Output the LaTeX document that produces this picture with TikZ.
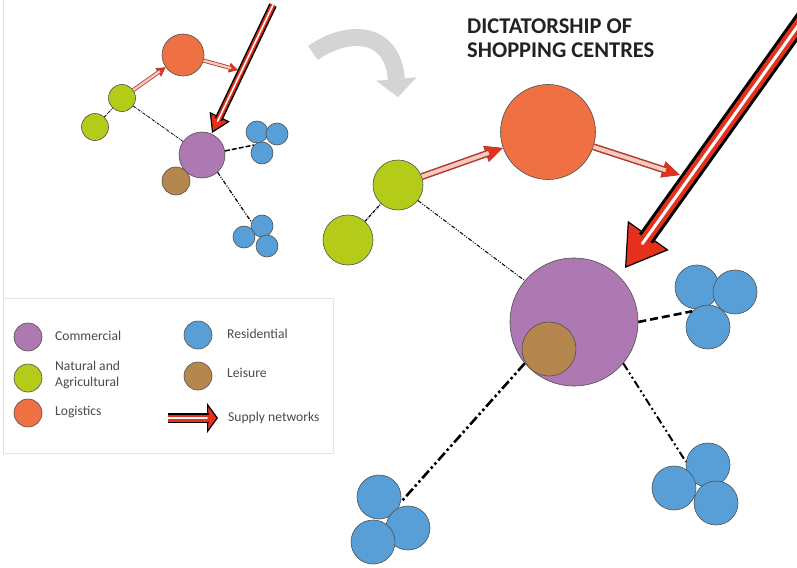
\documentclass[tikz,border=0pt]{standalone}
\usepackage{fontspec}
\setmainfont{Carlito}
\usetikzlibrary{arrows.meta,calc}
\definecolor{purp}{HTML}{AE78B2}
\definecolor{orng}{HTML}{EE7043}
\definecolor{grn}{HTML}{B4CC19}
\definecolor{blu}{HTML}{579FD6}
\definecolor{brn}{HTML}{B5874F}
\definecolor{cline}{HTML}{505050}
\definecolor{sred}{HTML}{E5301C}
\definecolor{sdark}{HTML}{B03A2E}
\definecolor{spink}{HTML}{F6C9BE}
\definecolor{garrow}{HTML}{D4D4D4}
\definecolor{txt}{HTML}{4A4A4A}
\definecolor{titlec}{HTML}{222222}

% pink supply arrow: from, to, outer w, inner w, head len, head wid, shorten
\newcommand{\pinkarrow}[7]{%
  \draw[line width=0.7pt, draw=sdark, -{Triangle[length=#5,width=#6,fill=sred]}] (#1) -- (#2);
  \draw[line width=#3, draw=sdark, shorten >=#7] (#1) -- (#2);
  \draw[line width=#4, draw=spink, shorten >=#7] (#1) -- (#2);
}
% red supply arrow: from, to, outer, red, white, head len, head wid, shorten, white shorten
\newcommand{\redarrow}[9]{%
  \draw[line width=1.2pt, draw=black, -{Triangle[length=#6,width=#7,fill=sred]}] (#1) -- (#2);
  \draw[line width=#3, draw=black, shorten >=#8] (#1) -- (#2);
  \draw[line width=#4, draw=sred, shorten >=#8] (#1) -- (#2);
  \draw[line width=#5, draw=white, line cap=round, shorten >=#9] (#1) -- (#2);
}

\begin{document}
\begin{tikzpicture}[x=1pt,y=-1pt,
  circ/.style={circle, draw=cline, line width=0.6pt, inner sep=0pt, minimum size=#1},
  legtext/.style={anchor=west, inner sep=0pt, text=txt, font=\fontsize{13.6}{16}\selectfont, align=left},
  dashthin/.style={line width=1pt, dash pattern=on 4pt off 1.5pt on 1pt off 1.5pt on 1pt off 1.5pt},
  dashdd/.style={line width=2.2pt, dash pattern=on 8pt off 3pt on 2pt off 3pt on 2pt off 3pt},
  dashthick/.style={line width=2.6pt, dash pattern=on 8pt off 4pt},
  sdash/.style={line width=0.8pt, dash pattern=on 3pt off 1pt on 0.8pt off 1pt},
  sdashthick/.style={line width=1.5pt, dash pattern=on 5pt off 2pt},
  sdashdd/.style={line width=1.2pt, dash pattern=on 4pt off 1.5pt on 1pt off 1.5pt on 1pt off 1.5pt}
]
\useasboundingbox (0,0) rectangle (797,567);
\fill[white] (0,0) rectangle (797,567);

% frame and legend box
\draw[gray!25, line width=0.8pt] (3,0) -- (3,455);
\draw[gray!20, line width=0.8pt] (3,298) -- (333,298) -- (333,453) -- (3,453);

% ---------- small diagram ----------
\node[circ=42pt, fill=orng] (so) at (183,55) {};
\node[circ=27pt, fill=grn] (sgb) at (122,98) {};
\node[circ=27pt, fill=grn] (sgs) at (95,127) {};
\node[circ=28pt, fill=brn] (sbr) at (176,181) {};
\node[circ=46pt, fill=purp] (sp) at (202,155) {};
\node[circ=22pt, fill=blu] (sb1a) at (257,132) {};
\node[circ=22pt, fill=blu] (sb1b) at (277,134) {};
\node[circ=22pt, fill=blu] (sb1c) at (262,153) {};
\node[circ=22pt, fill=blu] (sb2a) at (262,226) {};
\node[circ=22pt, fill=blu] (sb2b) at (244,237) {};
\node[circ=22pt, fill=blu] (sb2c) at (267,246) {};
\coordinate (sc1) at (238,70);
\coordinate (sc2) at (273,5);
\coordinate (sc3) at (212,133);

\draw[sdash] (sgs) -- (sgb);
\draw[sdash] (sgb) -- (sp);
\draw[sdashthick] (sp.10) -- (sb1c.135);
\draw[sdashdd] (sp.-48) -- (sb2a.160);
\pinkarrow{sgb}{so}{4pt}{2.4pt}{9pt}{10pt}{7pt}
\pinkarrow{so}{sc1}{4pt}{2.4pt}{9pt}{10pt}{7pt}
\redarrow{sc2}{sc3}{8pt}{5pt}{1.5pt}{18pt}{22pt}{15pt}{13pt}

% gray curved arrow
\draw[line width=17pt, garrow, -{Triangle[length=18pt,width=40pt,line width=0.01pt]}]
  (313,53) .. controls (345,30) and (392,28) .. (398,97);

% title
\node[anchor=north west, inner sep=0pt, align=left, text=titlec,
  font=\bfseries\fontsize{22.5}{24}\selectfont] (title) at (467,19) {DICTATORSHIP OF\\SHOPPING CENTRES};

% ---------- big diagram ----------
\node[circ=95pt, fill=orng] (o) at (548,132) {};
\node[circ=50pt, fill=grn] (gb) at (398,185) {};
\node[circ=50pt, fill=grn] (gs) at (348,240) {};
\node[circ=128pt, fill=purp] (p) at (574,322) {};
\node[circ=54pt, fill=brn] (br) at (549,349) {};
\node[circ=44pt, fill=blu] (b1a) at (697,287) {};
\node[circ=44pt, fill=blu] (b1b) at (735,292) {};
\node[circ=44pt, fill=blu] (b1c) at (708,327) {};
\node[circ=44pt, fill=blu] (b2a) at (708,465) {};
\node[circ=44pt, fill=blu] (b2b) at (674,488) {};
\node[circ=44pt, fill=blu] (b2c) at (716,503) {};
\node[circ=44pt, fill=blu] (b3a) at (379,497) {};
\node[circ=44pt, fill=blu] (b3b) at (408,528) {};
\node[circ=44pt, fill=blu] (b3c) at (373,542) {};
\coordinate (c1) at (680,175);
\coordinate (c2) at (805,16);
\coordinate (c3) at (625,268);

\draw[sdash, line width=1.3pt] (gs) -- (gb);
\draw[dashthin] (gb.-38) -- (p.140);
\draw[dashthick] (p.east) -- (b1c.135);
\draw[dashdd, line width=2pt] (p.-40) -- (b2a.172);
\draw[dashdd, line width=2.6pt, dash pattern=on 10pt off 3pt on 2.5pt off 3pt on 2.5pt off 3pt] (p.220) -- (b3a.-14);

\pinkarrow{gb}{o}{7pt}{4pt}{18pt}{17pt}{15pt}
\pinkarrow{o}{c1}{7pt}{4pt}{18pt}{17pt}{15pt}
\redarrow{c2}{c3}{17pt}{11pt}{3pt}{40pt}{50pt}{36pt}{30pt}

% ---------- legend ----------
\node[circ=28pt, fill=purp] (lc) at (28,337) {};
\node[circ=28pt, fill=grn] (ln) at (28,378) {};
\node[circ=28pt, fill=orng] (ll) at (28,413) {};
\node[circ=28pt, fill=blu] (lr) at (198,335) {};
\node[circ=28pt, fill=brn] (lle) at (198,376) {};
\node[legtext] (tc) at (55,336) {Commercial};
\node[legtext] (tn) at (55,375) {Natural and\\Agricultural};
\node[legtext] (tl) at (55,412) {Logistics};
\node[legtext] (tr) at (227,334) {Residential};
\node[legtext] (tle) at (227,373) {Leisure};
\node[legtext] (ts) at (228,418) {Supply networks};
\coordinate (la) at (168,418);
\coordinate (lb) at (218,418);
\redarrow{la}{lb}{10pt}{7pt}{2pt}{11pt}{30pt}{9pt}{11pt}
\end{tikzpicture}
\end{document}
